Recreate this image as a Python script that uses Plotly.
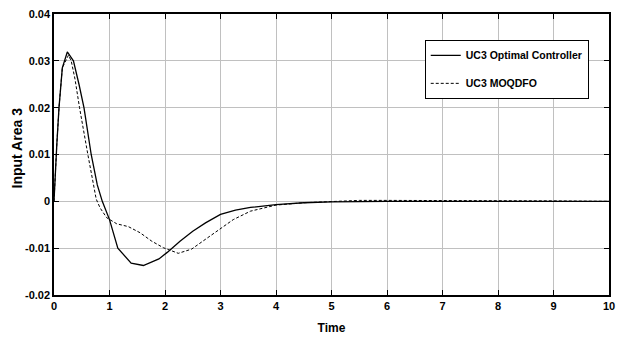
import plotly.graph_objects as go

# Series 1: UC3 Optimal Controller
t_opt = [0, 0.02, 0.05, 0.09, 0.15, 0.24, 0.35, 0.45, 0.54, 0.67, 0.78, 0.87, 1.0, 1.15, 1.39,
         1.61, 1.89, 2.04, 2.27, 2.5, 2.73, 3.0, 3.27, 3.54, 4.0, 4.5, 5.0, 6.0, 7.0, 8.0, 10.0]
v_opt = [0, 0.006, 0.012, 0.020, 0.0285, 0.0319, 0.030, 0.025, 0.020, 0.010, 0.0035, 0, -0.0039,
         -0.010, -0.0132, -0.0137, -0.0123, -0.0109, -0.0085, -0.0064, -0.0046, -0.0028, -0.0019,
         -0.0013, -0.0007, -0.0003, -0.0001, 0, 0, 0, 0]

# Series 2: UC3 MOQDFO
t_moq = [0, 0.02, 0.05, 0.09, 0.15, 0.26, 0.31, 0.38, 0.46, 0.61, 0.7, 0.76, 0.83, 0.95, 1.13,
         1.34, 1.55, 1.76, 1.97, 2.24, 2.48, 2.75, 3.0, 3.23, 3.54, 3.84, 4.0, 4.5, 5.0, 5.5, 6.0,
         7.0, 8.0, 9.0, 10.0]
v_moq = [0, 0.006, 0.012, 0.020, 0.0285, 0.0312, 0.030, 0.026, 0.020, 0.010, 0.004, 0.0005,
         -0.0014, -0.0035, -0.0048, -0.0054, -0.0067, -0.0085, -0.0099, -0.0111, -0.0102, -0.0079,
         -0.0057, -0.0039, -0.0021, -0.0012, -0.0008, -0.0003, 0, 0.0002, 0.0002, 0.0002, 0.0001,
         0.0001, 0.0]

x_ticks = [0, 1, 2, 3, 4, 5, 6, 7, 8, 9, 10]
y_ticks = [-0.02, -0.01, 0, 0.01, 0.02, 0.03, 0.04]
y_tick_text = ["-0.02", "-0.01", "0", "0.01", "0.02", "0.03", "0.04"]

FONT = "Liberation Sans, Arial, sans-serif"

fig = go.Figure()
fig.add_trace(go.Scatter(x=t_opt, y=v_opt, mode="lines", name="UC3 Optimal Controller",
                         legendgroup="a", line=dict(color="black", width=1.3)))
fig.add_trace(go.Scatter(x=t_moq, y=v_moq, mode="lines", name="UC3 MOQDFO",
                         legendgroup="b", line=dict(color="black", width=1, dash="3px,2px")))

axis_common = dict(showline=True, linecolor="black", linewidth=1.5, mirror="ticks",
                   ticks="inside", ticklen=5, tickcolor="black", showgrid=True,
                   gridcolor="#c0c0c0", gridwidth=1, zeroline=False, automargin=False,
                   tickfont=dict(family=FONT, size=11, color="black", weight="bold"))

fig.update_layout(
    width=619, height=338,
    margin=dict(l=54, r=10, t=14, b=43),
    paper_bgcolor="white", plot_bgcolor="white",
    xaxis=dict(range=[0, 10], tickvals=x_ticks, title=dict(text="Time", standoff=13,
               font=dict(family=FONT, size=12, color="black", weight="bold")), **axis_common),
    yaxis=dict(range=[-0.02, 0.04], tickvals=y_ticks, ticktext=y_tick_text, **axis_common),
    legend=dict(x=0.668, y=0.908, xanchor="left", yanchor="top", bgcolor="white",
                bordercolor="black", borderwidth=1, itemwidth=30,
                traceorder="grouped", tracegroupgap=9,
                font=dict(family=FONT, size=10.5, color="black", weight="bold")),
    showlegend=True,
)
fig.add_annotation(text="Input Area 3", xref="paper", yref="paper", x=-0.0667, y=0.525,
                   xanchor="center", yanchor="middle", textangle=-90, showarrow=False,
                   font=dict(family=FONT, size=14, color="black", weight="bold"))

fig.write_html("out.html", config={"displayModeBar": False},
               post_script="document.body.style.margin='0px';")
